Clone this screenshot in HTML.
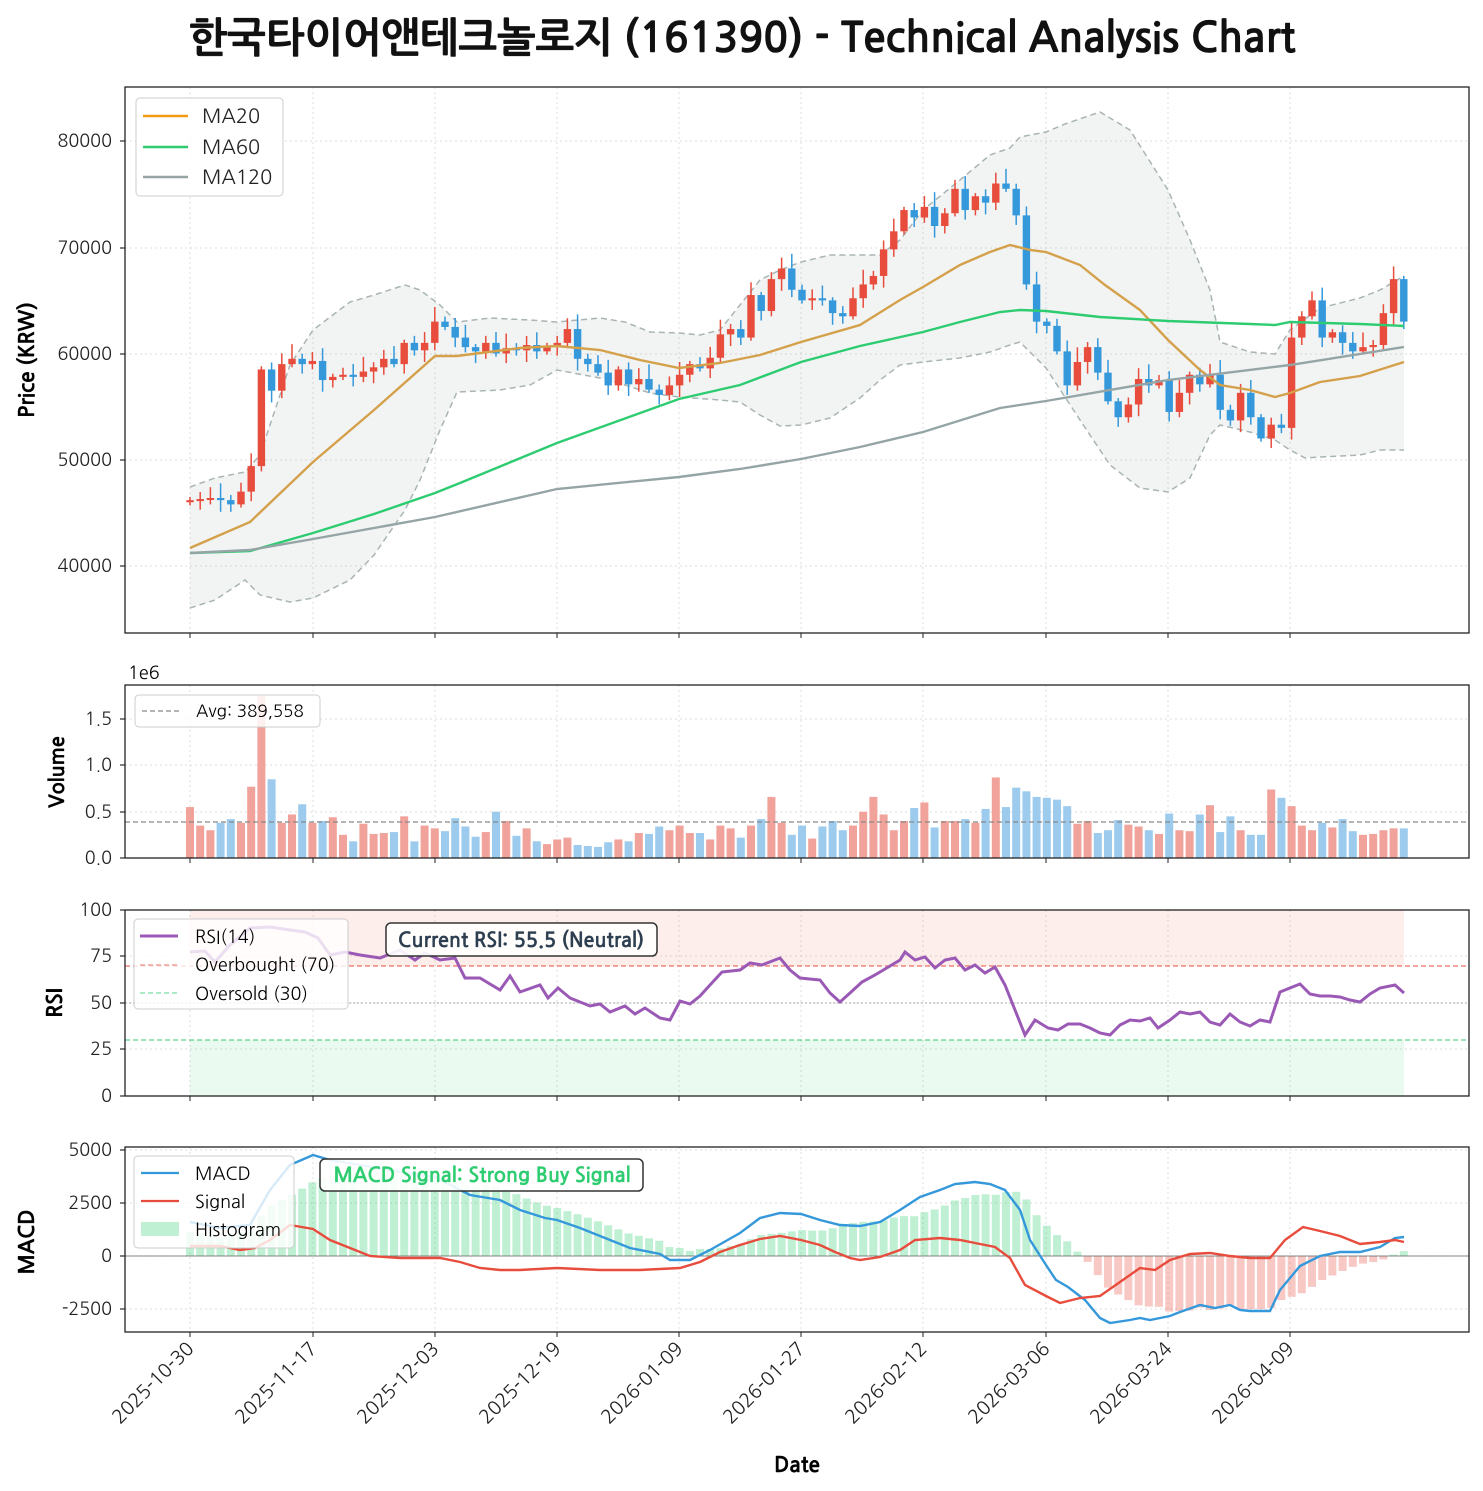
<!DOCTYPE html>
<html><head><meta charset="utf-8">
<style>
body{margin:0;background:#fff;}
svg{display:block;font-family:"NanumGothic","Liberation Sans","Noto Sans CJK KR",sans-serif;}
</style></head>
<body>
<svg id="s" width="1483" height="1491" viewBox="0 0 1483 1491" xmlns="http://www.w3.org/2000/svg">
<rect width="1483" height="1491" fill="#fff"/>
<text x="742" y="52" text-anchor="middle" font-size="41" font-weight="bold" fill="#111" stroke="#111" stroke-width="0.6">한국타이어앤테크놀로지 (161390) - Technical Analysis Chart</text>
<g id="g"></g>
</svg>
<script>
const g=document.getElementById('g');
let H='';
function add(s){H+=s;}
const X=i=>190+i*10.2;
const py=p=>566-(p-40000)*0.010625;
function pl(pts){return pts.map(p=>p[0]+','+p[1]).join(' ');}
function interp(pts,x){for(let k=0;k<pts.length-1;k++){if(x>=pts[k][0]&&x<=pts[k+1][0]){const t=(x-pts[k][0])/(pts[k+1][0]-pts[k][0]);return pts[k][1]+t*(pts[k+1][1]-pts[k][1]);}}return x<pts[0][0]?pts[0][1]:pts[pts.length-1][1];}
const ticksX=[190,313,435,557,679,801,923,1046,1168,1290];
const dates=['2025-10-30','2025-11-17','2025-12-03','2025-12-19','2026-01-09','2026-01-27','2026-02-12','2026-03-06','2026-03-24','2026-04-09'];
function panel(y0,y1,yt){
  ticksX.forEach(x=>add(`<line x1="${x}" y1="${y0}" x2="${x}" y2="${y1}" stroke="#ddd" stroke-dasharray="2,3" stroke-width="1"/>`));
  yt.forEach(t=>{add(`<line x1="125" y1="${t[0]}" x2="1469" y2="${t[0]}" stroke="#ddd" stroke-dasharray="2,3"/>`);add(`<line x1="120" y1="${t[0]}" x2="125" y2="${t[0]}" stroke="#000"/>`);add(`<text x="112" y="${t[0]+6}" text-anchor="end" font-size="18" fill="#222">${t[1]}</text>`);});
}
function frame(y0,y1){add(`<rect x="125" y="${y0}" width="1344" height="${y1-y0}" fill="none" stroke="#222" stroke-width="1.3"/>`);ticksX.forEach(x=>add(`<line x1="${x}" y1="${y1}" x2="${x}" y2="${y1+5}" stroke="#222"/>`));}
panel(87,633,[[566,'40000'],[460,'50000'],[354,'60000'],[248,'70000'],[141,'80000']]);
const bbU=[[190,487],[215,478],[245,472],[260,455],[290,365],[313,330],[350,302],[374,295],[405,285],[420,290],[440,305],[457,322],[490,318],[530,320],[557,322],[600,318],[625,322],[650,332],[679,333],[700,335],[720,330],[760,280],[780,270],[801,262],[830,255],[880,255],[900,240],[923,210],[960,180],[990,155],[1010,148],[1020,137],[1046,132],[1065,124],[1100,112],[1130,130],[1168,190],[1190,240],[1210,290],[1220,342],[1250,352],[1275,354],[1290,330],[1320,308],[1360,298],[1380,290],[1404,276]];
const bbL=[[190,608],[215,600],[245,580],[260,595],[290,602],[313,598],[350,580],[374,555],[405,510],[420,480],[440,430],[457,392],[500,390],[530,385],[557,370],[600,378],[625,385],[650,393],[679,397],[720,400],[740,402],[760,415],[780,426],[801,425],[830,418],[860,398],[880,380],[900,365],[923,362],[960,358],[990,352],[1010,345],[1020,342],[1046,368],[1080,420],[1110,465],[1140,488],[1168,492],[1190,478],[1210,435],[1220,425],[1250,432],[1275,440],[1290,450],[1305,458],[1320,457],[1360,455],[1380,450],[1404,450]];
add(`<polygon points="${pl(bbU)} ${pl(bbL.slice().reverse())}" fill="#95a5a6" fill-opacity="0.12"/>`);
add(`<polyline points="${pl(bbU)}" fill="none" stroke="#a9b4b5" stroke-width="1.5" stroke-dasharray="6,4"/>`);
add(`<polyline points="${pl(bbL)}" fill="none" stroke="#a9b4b5" stroke-width="1.5" stroke-dasharray="6,4"/>`);
const C=[46200,46300,46400,46200,45800,47000,49400,58500,56500,59000,59500,59000,59300,57500,57800,58000,57800,58300,58700,59500,59000,61000,60300,61000,63000,62500,61500,60600,60200,61000,60000,60500,60300,60800,60200,60700,61000,62300,59500,59000,58200,57000,58500,57100,57600,56600,56100,57000,58000,59000,58600,59600,61800,62300,61500,65500,64000,67000,68000,66000,65000,65200,65000,63800,63500,65200,66500,67300,69800,71500,73500,72800,73800,72000,73200,75500,73500,74800,74200,76000,75500,73000,66500,63000,62600,60200,57000,59200,60600,58200,55500,54000,55200,57600,57000,57500,54500,56300,58000,57100,58000,54700,53700,56300,54000,52000,53300,53000,61500,63500,65000,61500,62000,61000,60200,60600,60800,63800,67000,63000];
let dir=[];
for(let i=0;i<C.length;i++){const o=i?C[i-1]:46000;const up=C[i]>=o;dir.push(up);const col=up?'#e74c3c':'#3498db';const hi=Math.max(o,C[i])+300+((i*37)%7)*180;const lo=Math.min(o,C[i])-300-((i*53)%5)*200;const x=X(i);
add(`<line x1="${x}" y1="${py(hi)}" x2="${x}" y2="${py(lo)}" stroke="${col}" stroke-width="1.5"/>`);
const yt=py(Math.max(o,C[i])),yb=py(Math.min(o,C[i]));add(`<rect x="${x-3.7}" y="${yt}" width="7.4" height="${Math.max(2,yb-yt)}" fill="${col}"/>`);}
const ma20=[[190,548],[250,522],[313,462],[374,410],[435,356],[457,356],[520,348],[557,346],[600,350],[640,360],[679,368],[720,363],[760,355],[801,342],[860,325],[900,300],[923,287],[960,265],[990,252],[1010,245],[1030,250],[1046,252],[1080,265],[1105,285],[1140,310],[1168,340],[1200,370],[1220,385],[1250,390],[1275,397],[1290,393],[1320,382],[1360,376],[1404,362]];
const ma60=[[190,553],[250,551],[313,533],[374,514],[435,493],[460,483],[557,443],[679,399],[740,385],[801,362],[860,346],[923,332],[960,322],[1000,312],[1020,310],[1046,311],[1100,317],[1168,321],[1250,324],[1275,325],[1290,322],[1360,324],[1404,326]];
const ma120=[[190,553],[250,550],[313,539],[435,517],[557,489],[679,477],[740,469],[801,459],[860,447],[923,432],[1000,408],[1046,401],[1168,380],[1290,365],[1404,347]];
add(`<polyline points="${pl(ma20)}" fill="none" stroke="#d4a04a" stroke-width="2.4"/>`);
add(`<polyline points="${pl(ma60)}" fill="none" stroke="#2ecc71" stroke-width="2.4"/>`);
add(`<polyline points="${pl(ma120)}" fill="none" stroke="#95a5a6" stroke-width="2.4"/>`);
frame(87,633);
add(`<rect x="136" y="98" width="147" height="98" rx="4" fill="#fff" fill-opacity="0.85" stroke="#ccc"/>`);
[['MA20','#f39c12',116],['MA60','#2ecc71',147],['MA120','#95a5a6',177]].forEach(l=>{add(`<line x1="143" y1="${l[2]}" x2="188" y2="${l[2]}" stroke="${l[1]}" stroke-width="2.5"/><text x="202" y="${l[2]+7}" font-size="20" fill="#222">${l[0]}</text>`);});
add(`<text transform="translate(34,360) rotate(-90)" text-anchor="middle" font-size="21" font-weight="bold" stroke="#000" stroke-width="0.4">Price (KRW)</text>`);
panel(685,858,[[858,'0.0'],[812,'0.5'],[765,'1.0'],[719,'1.5']]);
const V=[0.55,0.35,0.3,0.38,0.42,0.38,0.77,1.75,0.85,0.38,0.47,0.58,0.38,0.4,0.44,0.25,0.18,0.37,0.26,0.27,0.28,0.45,0.18,0.35,0.32,0.29,0.43,0.34,0.23,0.28,0.5,0.4,0.24,0.32,0.18,0.15,0.2,0.22,0.14,0.13,0.12,0.17,0.2,0.18,0.27,0.26,0.34,0.3,0.35,0.27,0.27,0.2,0.35,0.32,0.22,0.35,0.42,0.66,0.38,0.25,0.35,0.21,0.34,0.4,0.3,0.35,0.5,0.66,0.47,0.3,0.4,0.54,0.6,0.33,0.4,0.4,0.42,0.38,0.53,0.87,0.55,0.76,0.72,0.66,0.65,0.63,0.56,0.37,0.4,0.27,0.3,0.41,0.36,0.34,0.3,0.26,0.48,0.3,0.29,0.47,0.57,0.28,0.45,0.3,0.25,0.25,0.74,0.65,0.56,0.35,0.3,0.38,0.33,0.42,0.29,0.25,0.26,0.3,0.32,0.32];
for(let i=0;i<120;i++){const h=V[i]*92.6;add(`<rect x="${X(i)-4}" y="${858-h}" width="8" height="${h}" fill="${dir[i]?'#f1a29a':'#9ccbed'}"/>`);}
add(`<line x1="125" y1="822" x2="1469" y2="822" stroke="#888" stroke-width="1.3" stroke-dasharray="5,3"/>`);
frame(685,858);
add(`<text x="128" y="679" font-size="18">1e6</text>`);
add(`<rect x="135" y="695" width="185" height="32" rx="4" fill="#fff" fill-opacity="0.85" stroke="#ccc"/><line x1="142" y1="711" x2="182" y2="711" stroke="#888" stroke-width="1.3" stroke-dasharray="5,3"/><text x="196" y="717" font-size="17">Avg: 389,558</text>`);
add(`<text transform="translate(64,772) rotate(-90)" text-anchor="middle" font-size="20" font-weight="bold" stroke="#000" stroke-width="0.4">Volume</text>`);
panel(910,1096,[[1096,'0'],[1049,'25'],[1003,'50'],[956,'75'],[910,'100']]);
add(`<rect x="190" y="910" width="1214" height="56" fill="#e74c3c" fill-opacity="0.1"/><rect x="190" y="1040" width="1214" height="56" fill="#2ecc71" fill-opacity="0.1"/>`);
add(`<line x1="125" y1="966" x2="1469" y2="966" stroke="#e74c3c" stroke-opacity="0.8" stroke-dasharray="5,3" stroke-width="1.3"/><line x1="125" y1="1040" x2="1469" y2="1040" stroke="#2ecc71" stroke-opacity="0.8" stroke-dasharray="5,3" stroke-width="1.3"/><line x1="125" y1="1003" x2="1469" y2="1003" stroke="#aaa" stroke-dasharray="2,2"/>`);
const rsi=[[190,952],[205,951],[215,962],[230,945],[250,928],[270,927],[290,930],[305,932],[318,938],[330,955],[345,952],[360,955],[380,958],[400,950],[415,960],[425,953],[440,960],[455,958],[465,978],[480,978],[500,990],[510,976],[520,992],[540,985],[548,998],[558,988],[570,998],[590,1006],[600,1004],[610,1012],[625,1006],[635,1014],[645,1008],[660,1018],[670,1020],[680,1001],[690,1004],[700,996],[710,985],[722,972],[740,970],[750,963],[762,965],[780,958],[790,970],[800,978],[820,980],[830,993],[840,1002],[850,993],[862,982],[875,975],[885,969],[900,960],[905,952],[915,960],[925,957],[935,968],[945,960],[955,958],[965,970],[975,965],[985,973],[995,967],[1005,985],[1015,1010],[1025,1035],[1035,1020],[1048,1028],[1058,1030],[1068,1024],[1080,1024],[1090,1028],[1100,1033],[1110,1035],[1120,1025],[1130,1020],[1140,1021],[1150,1018],[1158,1028],[1170,1020],[1180,1012],[1190,1014],[1200,1012],[1210,1022],[1220,1025],[1230,1014],[1240,1022],[1250,1026],[1260,1020],[1270,1022],[1280,992],[1290,988],[1300,984],[1310,994],[1320,996],[1330,996],[1340,997],[1350,1000],[1360,1002],[1370,994],[1380,988],[1395,985],[1404,993]];
add(`<polyline points="${pl(rsi)}" fill="none" stroke="#9b59b6" stroke-width="3"/>`);
frame(910,1096);
add(`<rect x="134" y="919" width="214" height="90" rx="4" fill="#fff" fill-opacity="0.8" stroke="#ccc"/>`);
add(`<line x1="140" y1="936" x2="178" y2="936" stroke="#9b59b6" stroke-width="3"/><text x="195" y="943" font-size="18">RSI(14)</text>`);
add(`<line x1="140" y1="965" x2="178" y2="965" stroke="#e74c3c" stroke-opacity="0.8" stroke-dasharray="5,3"/><text x="195" y="971" font-size="18">Overbought (70)</text>`);
add(`<line x1="140" y1="993" x2="178" y2="993" stroke="#2ecc71" stroke-opacity="0.8" stroke-dasharray="5,3"/><text x="195" y="1000" font-size="18">Oversold (30)</text>`);
add(`<rect x="386" y="923" width="271" height="33" rx="5" fill="#fff" fill-opacity="0.9" stroke="#333" stroke-width="1.5"/><text x="521" y="947" text-anchor="middle" font-size="20" font-weight="bold" fill="#2c3e50" stroke="#2c3e50" stroke-width="0.3">Current RSI: 55.5 (Neutral)</text>`);
add(`<text transform="translate(62,1003) rotate(-90)" text-anchor="middle" font-size="21" font-weight="bold" stroke="#000" stroke-width="0.4">RSI</text>`);
panel(1147,1332,[[1309,'-2500'],[1256,'0'],[1203,'2500'],[1150,'5000']]);
const macd=[[190,1222],[220,1228],[250,1225],[270,1190],[290,1165],[313,1155],[330,1160],[360,1165],[400,1172],[435,1177],[470,1195],[500,1200],[520,1210],[545,1218],[557,1220],[580,1228],[600,1236],[630,1248],[660,1254],[670,1260],[690,1260],[710,1250],[740,1233],[760,1218],[780,1213],[801,1214],[820,1220],[840,1225],[860,1226],[880,1222],[900,1210],[920,1197],[940,1190],[955,1184],[975,1182],[990,1184],[1005,1190],[1020,1210],[1030,1240],[1046,1265],[1056,1280],[1068,1287],[1085,1300],[1100,1318],[1110,1323],[1130,1320],[1140,1318],[1150,1320],[1160,1318],[1170,1316],[1180,1312],[1200,1305],[1215,1308],[1230,1305],[1240,1310],[1250,1311],[1270,1311],[1280,1290],[1300,1266],[1320,1256],[1340,1252],[1360,1252],[1380,1247],[1395,1238],[1404,1237]];
const sig=[[190,1246],[220,1246],[240,1250],[255,1248],[270,1240],[290,1225],[313,1229],[330,1240],[350,1248],[370,1256],[400,1258],[420,1258],[440,1258],[460,1262],[480,1268],[500,1270],[520,1270],[557,1268],[600,1270],[640,1270],[680,1268],[700,1262],[720,1252],[740,1245],[760,1239],[780,1236],[801,1240],[820,1245],[835,1252],[850,1258],[860,1260],[880,1257],[900,1250],[915,1240],[940,1238],[960,1240],[980,1244],[995,1247],[1010,1258],[1025,1285],[1046,1296],[1060,1303],[1080,1298],[1100,1296],[1120,1282],[1140,1268],[1155,1270],[1170,1260],[1190,1254],[1210,1253],[1230,1256],[1250,1258],[1270,1258],[1285,1240],[1303,1227],[1320,1231],[1340,1236],[1360,1244],[1380,1242],[1395,1240],[1404,1242]];
for(let i=0;i<120;i++){const x=X(i);const d=interp(macd,x)-interp(sig,x);const y=1256+d;const c=d<0?'#2ecc71':'#e74c3c';add(`<rect x="${x-4}" y="${Math.min(y,1256)}" width="8" height="${Math.abs(d)}" fill="${c}" fill-opacity="0.3"/>`);}
add(`<line x1="125" y1="1256" x2="1469" y2="1256" stroke="#555" stroke-opacity="0.7" stroke-width="1"/>`);
add(`<polyline points="${pl(macd)}" fill="none" stroke="#3498db" stroke-width="2.4"/>`);
add(`<polyline points="${pl(sig)}" fill="none" stroke="#e74c3c" stroke-width="2.4"/>`);
frame(1147,1332);
add(`<rect x="134" y="1156" width="160" height="92" rx="4" fill="#fff" fill-opacity="0.8" stroke="#ccc"/>`);
add(`<line x1="141" y1="1173" x2="179" y2="1173" stroke="#3498db" stroke-width="2.2"/><text x="195" y="1180" font-size="18">MACD</text>`);
add(`<line x1="141" y1="1201" x2="179" y2="1201" stroke="#e74c3c" stroke-width="2.2"/><text x="195" y="1208" font-size="18">Signal</text>`);
add(`<rect x="141" y="1222" width="38" height="14" fill="#2ecc71" fill-opacity="0.3"/><text x="195" y="1236" font-size="18">Histogram</text>`);
add(`<rect x="320" y="1159" width="323" height="32" rx="5" fill="#fff" fill-opacity="0.9" stroke="#333" stroke-width="1.5"/><text x="482" y="1182" text-anchor="middle" font-size="20" font-weight="bold" fill="#2ecc71" stroke="#2ecc71" stroke-width="0.3">MACD Signal: Strong Buy Signal</text>`);
add(`<text transform="translate(34,1242) rotate(-90)" text-anchor="middle" font-size="21" font-weight="bold" stroke="#000" stroke-width="0.4">MACD</text>`);
ticksX.forEach((x,k)=>add(`<text transform="translate(${x+5},1350) rotate(-45)" text-anchor="end" font-size="19" fill="#222">${dates[k]}</text>`));
add(`<text x="797" y="1472" text-anchor="middle" font-size="21" font-weight="bold" stroke="#000" stroke-width="0.4">Date</text>`);
g.innerHTML=H;
</script>
</body></html>
